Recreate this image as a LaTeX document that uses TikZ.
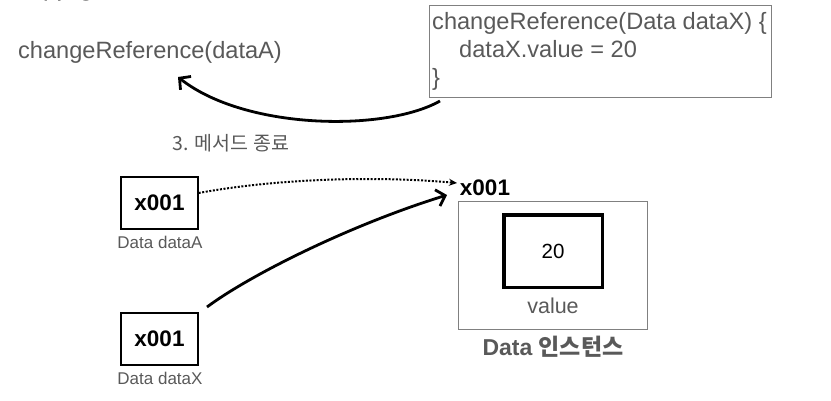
\documentclass[tikz,border=0pt]{standalone}
\usepackage{fontspec}
\setmainfont{Liberation Sans}
\newfontfamily\kr{Noto Sans CJK KR}
\usetikzlibrary{arrows.meta}
\definecolor{txtgray}{HTML}{595959}
\definecolor{boxgray}{HTML}{808080}
\tikzset{
  fs/.style={font=\fontsize{#1}{#1}\selectfont},
  refbox/.style={draw=black, line width=1.3pt, minimum width=77pt, minimum height=52pt, inner sep=0pt, font=\fontsize{22.5}{22.5}\selectfont\bfseries},
  varlabel/.style={text=txtgray, font=\fontsize{17}{17}\selectfont, inner sep=0pt},
  bigarrow/.style={line width=2.8pt, -{Straight Barb[length=8pt,width=17pt,line width=2.8pt]}},
  dotarrow/.style={line width=2pt, dash pattern=on 2pt off 1.6pt, -{Stealth[length=8pt,width=7pt]}},
}
\begin{document}
\begin{tikzpicture}[x=1pt,y=-1pt]
\useasboundingbox (0,0) rectangle (831,400);
% heading, cut off at the top edge as in the reference
\node[inner sep=0pt, font=\kr\fontsize{15}{15}\selectfont\bfseries] (head) at (61,-6) {3. 메서드 종료};
% caller
\node[inner sep=0pt, text=txtgray, fs=23.6] (call) at (150,52) {changeReference(dataA)};
% code box
\node[draw=boxgray, line width=0.9pt, minimum width=342pt, minimum height=92pt, inner sep=0pt, anchor=north west] (code) at (429,5) {};
\node[inner sep=0pt, anchor=base west, text=txtgray, fs=23.6] (l1) at (432,29) {changeReference(Data dataX) \{};
\node[inner sep=0pt, anchor=base west, text=txtgray, fs=23.6] (l2) at (459,57) {dataX.value = 20};
\node[inner sep=0pt, anchor=base west, text=txtgray, fs=23.6] (l3) at (432,85) {\}};
% return arrow
\coordinate (retstart) at (440,101);
\coordinate (rettip) at (178,77);
\draw[bigarrow] (retstart) .. controls (385,132) and (245,130) .. (rettip);
\node[inner sep=0pt, text=txtgray, font=\kr\fontsize{19.5}{19.5}\selectfont] (step3) at (231,143) {3. 메서드 종료};
% reference variables
\node[refbox] (dataA) at (159.5,203) {x001};
\node[varlabel] (labA) at (160,242) {Data dataA};
\node[refbox] (dataX) at (159.5,339) {x001};
\node[varlabel] (labX) at (160,378) {Data dataX};
% instance
\node[inner sep=0pt, font=\fontsize{22.5}{22.5}\selectfont\bfseries] (addr) at (485,188) {x001};
\node[draw=boxgray, line width=0.9pt, minimum width=189pt, minimum height=128pt, inner sep=0pt] (inst) at (552.5,265) {};
\node[draw=black, line width=3.5pt, minimum width=98.5pt, minimum height=72.5pt, inner sep=0pt, fs=20.5] (val) at (553,251) {20};
\node[inner sep=0pt, text=txtgray, fs=21.5] (vallab) at (553,306) {value};
\node[inner sep=0pt, text=txtgray, font=\fontsize{23}{23}\selectfont\bfseries] (instlab) at (553,347) {Data {\kr 인스턴스}};
% arrows to instance
\coordinate (dottip) at (457,183);
\draw[dotarrow] (dataA.east |- 0,193) .. controls (280,178) and (380,176) .. (dottip);
\coordinate (xstart) at (207,307);
\coordinate (xtip) at (447,195);
\draw[bigarrow] (xstart) .. controls (250,275) and (350,225) .. (xtip);
\end{tikzpicture}
\end{document}
